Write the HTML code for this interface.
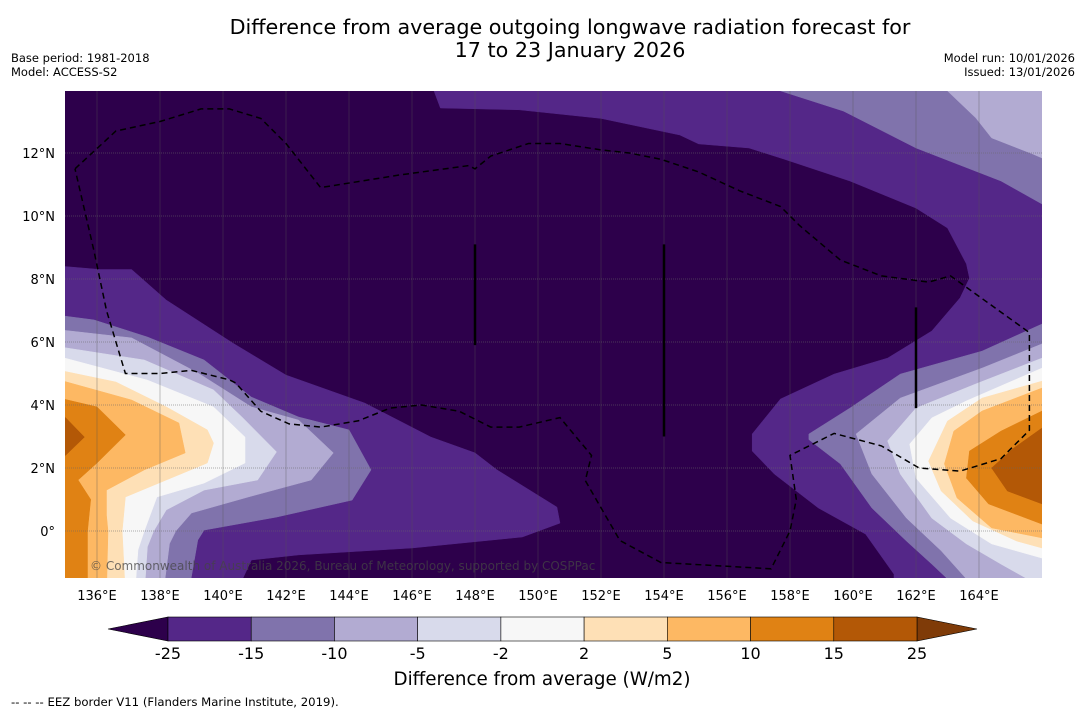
<!DOCTYPE html>
<html><head><meta charset="utf-8">
<style>
body{margin:0;background:#fff;width:1085px;height:713px;overflow:hidden;font-family:"DejaVu Sans","Liberation Sans",sans-serif;}
svg{position:absolute;left:0;top:0}
</style></head>
<body>
<svg id="chart" width="1085" height="713" font-family="DejaVu Sans, Liberation Sans, sans-serif">
<text x="570" y="34" font-size="20.7" text-anchor="middle" fill="#000">Difference from average outgoing longwave radiation forecast for</text>
<text x="570" y="57" font-size="20.7" text-anchor="middle" fill="#000">17 to 23 January 2026</text>
<text x="11" y="62" font-size="11.5">Base period: 1981-2018</text>
<text x="11" y="76" font-size="11.5">Model: ACCESS-S2</text>
<text x="1075" y="62" font-size="11.5" text-anchor="end">Model run: 10/01/2026</text>
<text x="1075" y="76" font-size="11.5" text-anchor="end">Issued: 13/01/2026</text>
<defs><clipPath id="mapclip"><rect x="65" y="91" width="977" height="487"/></clipPath></defs>
<g id="map" clip-path="url(#mapclip)">
<rect x="65" y="91" width="977" height="487" fill="#2d004b"/>
</g>
<g id="ticks"></g>
<g id="cbar"></g>
<text x="542" y="685" font-size="18.3" text-anchor="middle">Difference from average (W/m2)</text>
<text x="11" y="706" font-size="11.7">--  --  -- EEZ border V11 (Flanders Marine Institute, 2019).</text>
</svg>
<script>
// ---- data ----
const lonTicks=[136,138,140,142,144,146,148,150,152,154,156,158,160,162,164];
const latTicks=[0,2,4,6,8,10,12];
const levels=[-25,-15,-10,-5,-2,2,5,10,15,25];
const bandColors=["#542788","#8073ac","#b2abd2","#d8daeb","#f7f7f7","#fee0b6","#fdb863","#e08214","#b35806"];
// contour polygons in [lon, lat]
const westM15=[[134,8.48],[136.1,8.3],[137.1,8.3],[138.2,7.33],[140.3,5.97],[142,4.95],[144.5,4.06],[146.6,2.98],[148,2.48],[148.7,1.94],[150.6,0.76],[150.7,0.25],[149.5,-0.19],[146,-0.54],[142.4,-0.76],[140.9,-0.92],[140.4,-2],[134,-2]];
const westM10=[[134,6.95],[135.9,6.7],[137.6,6.16],[139.4,5.43],[140.9,4.25],[142.4,3.62],[144,3.21],[144.7,1.94],[144.1,0.98],[141.7,0.44],[139.4,0.03],[139.2,-0.29],[138.9,-2],[134,-2]];
const westM5=[[134,6.48],[137.1,6.13],[139.2,5.02],[140.9,3.94],[142.4,3.52],[143.5,2.48],[142.8,1.62],[140.8,1.08],[139.0,0.57],[138.5,0.0],[138.3,-0.4],[138.1,-2],[134,-2]];
const westM2=[[134,5.97],[137.5,5.43],[139.7,4.48],[140.6,3.62],[141.7,2.51],[141.1,1.62],[139.4,1.3],[138.2,0.67],[137.8,0],[137.6,-0.5],[137.5,-2],[134,-2]];
const westZ=[[134,5.75],[137.6,4.79],[139.7,3.94],[140.7,2.98],[140.7,2.16],[139.4,1.52],[137.9,1.08],[137.5,0],[137.3,-0.6],[137.2,-2],[134,-2]];
const westP2=[[134,5.27],[136.6,4.73],[138.2,3.94],[139.5,3.21],[139.7,2.79],[139.5,2.16],[138.2,1.62],[136.9,1.08],[136.8,0],[136.9,-2],[134,-2]];
const westP5=[[134,5.02],[137.1,4.16],[138.6,3.43],[138.8,2.48],[137.5,1.94],[136.3,1.3],[136.3,0.5],[136.35,0],[136.3,-2],[134,-2]];
const westP10=[[134,4.41],[136,3.94],[136.9,3.05],[136,2.16],[135.4,1.62],[135.8,1.0],[135.7,0],[135.7,-2],[134,-2]];
const westP15=[[134,3.7],[135,3.6],[135.6,2.98],[135,2.4],[134,2.4]];
const eastM15=[[146.7,15],[146.7,13.97],[146.9,13.43],[149.4,13.37],[152,13.1],[154.5,12.57],[155.1,12.29],[156.7,12.16],[157.8,11.81],[159.9,11.11],[162,10.25],[163,9.62],[163.6,8.48],[163.7,8.03],[163.4,7.4],[162.5,6.35],[161.1,5.49],[159.4,4.98],[157.7,4.19],[156.8,3.08],[156.8,2.54],[157.5,1.81],[158.9,0.73],[160.4,-0.1],[161.3,-1.37],[161.3,-2],[167,-2],[167,15]];
const eastM10top=[[157.7,15],[157.7,13.97],[159.7,13.33],[162,12.16],[164.7,11.11],[166,10.38],[167,10.3],[167,15]];
const eastM10=[[167,6.6],[166,6.57],[164.1,5.71],[161.5,4.98],[159.9,3.9],[158.6,3.08],[158.6,2.9],[159.6,2.13],[160.6,0.73],[161.7,-0.32],[162.5,-1.05],[163,-1.52],[163,-2],[167,-2]];
const eastM5top=[[163,15],[163,13.97],[163.9,13.11],[164.4,12.48],[165.7,11.97],[166,11.84],[167,11.8],[167,15]];
const eastM5=[[167,5.94],[166,5.94],[164.1,5.17],[161.5,4.22],[160.1,3.08],[160.6,1.81],[161.7,0.41],[162.8,-0.63],[163.6,-1.52],[163.6,-2],[167,-2]];
const eastM2=[[167,5.49],[166,5.49],[163.9,4.67],[162,3.9],[161.1,2.86],[161.5,1.81],[162.5,0.41],[163.6,-0.41],[164.7,-1.05],[165.5,-1.5],[166,-2],[167,-2]];
const eastZ=[[167,5.17],[166,5.17],[163.6,4.13],[162.5,3.59],[161.8,2.76],[162,1.68],[163.1,0.41],[164.4,-0.41],[166,-0.86],[167,-0.9]];
const eastP2=[[167,4.76],[166,4.76],[164.1,4.22],[163,3.49],[162.4,2.22],[162.8,1.27],[163.8,0.32],[165.2,-0.32],[166,-0.54],[167,-0.6]];
const eastP5=[[167,4.54],[166,4.54],[164.1,3.81],[163.2,3.17],[162.9,2.13],[163.3,1.05],[164.4,0.1],[166,-0.22],[167,-0.25]];
const eastP10=[[167,3.81],[166,3.81],[164.7,3.17],[163.7,2.54],[163.6,1.68],[164.3,0.86],[166,0.22],[167,0.2]];
const eastP15=[[167,3.27],[166,3.27],[165.1,2.63],[164.4,2.0],[164.9,1.27],[166,0.86],[167,0.85]];
const eez=[[135.3,11.5],[136.6,12.7],[138.0,13.0],[139.3,13.4],[140.2,13.4],[141.2,13.1],[142.0,12.3],[143.1,10.9],[145.6,11.3],[147.8,11.6],[148.0,11.5],[148.5,11.9],[149.7,12.3],[150.7,12.3],[152.0,12.1],[152.9,12.0],[153.9,11.8],[155.1,11.4],[156.4,10.8],[157.7,10.3],[158.3,9.7],[159.6,8.6],[160.9,8.1],[162.4,7.9],[163.1,8.1],[165.6,6.3],[165.6,3.2],[164.7,2.3],[163.4,1.9],[162.1,2.0],[160.9,2.7],[159.4,3.1],[158.0,2.4],[158.2,1.0],[158.0,0.0],[157.4,-1.2],[153.9,-1.0],[152.6,-0.3],[151.5,1.6],[151.7,2.4],[150.7,3.6],[149.4,3.3],[148.5,3.3],[147.5,3.8],[146.3,4.0],[145.3,3.9],[144.3,3.5],[143.1,3.3],[142.1,3.4],[141.2,3.8],[140.4,4.7],[140.2,4.8],[139.0,5.1],[138.0,5.0],[136.9,5.0],[136.3,7.0],[135.9,8.9],[135.3,11.5]];
const boundaryLines=[[[148,9.1],[148,5.9]],[[154,9.1],[154,3.0]],[[162,7.1],[162,3.9]]];

// ---- axes ----
const X=lon=>97+(lon-136)*31.5;
const Y=lat=>531-lat*31.5;
const NS="http://www.w3.org/2000/svg";
const map=document.getElementById('map');
function pts(a){return a.map(p=>X(p[0]).toFixed(1)+','+Y(p[1]).toFixed(1)).join(' ');}
const layers=[
 [westM15,0,'west-band-m15'],[westM10,1,'west-band-m10'],[westM5,2,'west-band-m5'],[westM2,3,'west-band-m2'],[westZ,4,'west-band-neutral'],[westP2,5,'west-band-p2'],[westP5,6,'west-band-p5'],[westP10,7,'west-band-p10'],[westP15,8,'west-band-p15'],
 [eastM15,0,'east-band-m15'],[eastM10top,1,'east-top-band-m10'],[eastM5top,2,'east-top-band-m5'],[eastM10,1,'east-band-m10'],[eastM5,2,'east-band-m5'],[eastM2,3,'east-band-m2'],[eastZ,4,'east-band-neutral'],[eastP2,5,'east-band-p2'],[eastP5,6,'east-band-p5'],[eastP10,7,'east-band-p10'],[eastP15,8,'east-band-p15']];
layers.forEach(l=>{
 const p=document.createElementNS(NS,'polygon');
 p.setAttribute('points',pts(l[0]));
 p.setAttribute('fill',bandColors[l[1]]);
 p.setAttribute('stroke',bandColors[l[1]]);p.setAttribute('stroke-width','0.5');
 
 
 map.appendChild(p);
});
lonTicks.forEach(lon=>{
 const l=document.createElementNS(NS,'line');
 l.setAttribute('x1',X(lon));l.setAttribute('x2',X(lon));l.setAttribute('y1',91);l.setAttribute('y2',578);
 l.setAttribute('stroke','#555');l.setAttribute('stroke-width','0.6');l.setAttribute('stroke-opacity','0.6');
 
 
 map.appendChild(l);
});
latTicks.forEach(lat=>{
 const l=document.createElementNS(NS,'line');
 l.setAttribute('x1',65);l.setAttribute('x2',1042);l.setAttribute('y1',Y(lat));l.setAttribute('y2',Y(lat));
 l.setAttribute('stroke','#666');l.setAttribute('stroke-width','0.8');l.setAttribute('stroke-dasharray','1,1');l.setAttribute('stroke-opacity','0.7');
 
 
 map.appendChild(l);
});
const e=document.createElementNS(NS,'polyline');
e.setAttribute('points',pts(eez));e.setAttribute('fill','none');e.setAttribute('stroke','#000');e.setAttribute('stroke-width','1.5');e.setAttribute('stroke-dasharray','6,4');


map.appendChild(e);
boundaryLines.forEach(b=>{
 const l=document.createElementNS(NS,'polyline');
 l.setAttribute('points',pts(b));l.setAttribute('stroke','#000');l.setAttribute('stroke-width','2.5');
 
 
 map.appendChild(l);
});
const c=document.createElementNS(NS,'text');
c.setAttribute('x',90);c.setAttribute('y',570);c.setAttribute('font-size','12');c.setAttribute('fill','#444');c.setAttribute('fill-opacity','0.75');
c.textContent='© Commonwealth of Australia 2026, Bureau of Meteorology, supported by COSPPac';


map.appendChild(c);
const tk=document.getElementById('ticks');
lonTicks.forEach(lon=>{
 const t=document.createElementNS(NS,'text');
 t.setAttribute('x',X(lon));t.setAttribute('y',600);t.setAttribute('font-size','13');t.setAttribute('text-anchor','middle');
 t.textContent=lon+'°E';
 
 
 tk.appendChild(t);
});
latTicks.forEach(lat=>{
 const t=document.createElementNS(NS,'text');
 t.setAttribute('x',55);t.setAttribute('y',Y(lat)+5);t.setAttribute('font-size','13');t.setAttribute('text-anchor','end');
 t.textContent=lat===0?'0°':lat+'°N';
 
 
 tk.appendChild(t);
});
const cb=document.getElementById('cbar');
const cx0=168,cx1=917,cy=617,ch=24,bw=(cx1-cx0)/bandColors.length;
const lt=document.createElementNS(NS,'polygon');
lt.setAttribute('points',`108,${cy+ch/2} ${cx0},${cy} ${cx0},${cy+ch}`);lt.setAttribute('fill','#2d004b');lt.setAttribute('stroke','#000');lt.setAttribute('stroke-width','0.6');


cb.appendChild(lt);
const rt=document.createElementNS(NS,'polygon');
rt.setAttribute('points',`977,${cy+ch/2} ${cx1},${cy} ${cx1},${cy+ch}`);rt.setAttribute('fill','#7f3b08');rt.setAttribute('stroke','#000');rt.setAttribute('stroke-width','0.6');


cb.appendChild(rt);
bandColors.forEach((col,i)=>{
 const r=document.createElementNS(NS,'rect');
 r.setAttribute('x',cx0+i*bw);r.setAttribute('y',cy);r.setAttribute('width',bw);r.setAttribute('height',ch);
 r.setAttribute('fill',col);r.setAttribute('stroke','#000');r.setAttribute('stroke-width','0.6');
 
 
 cb.appendChild(r);
});
levels.forEach((v,i)=>{
 const t=document.createElementNS(NS,'text');
 t.setAttribute('x',cx0+i*bw);t.setAttribute('y',659);t.setAttribute('font-size','16');t.setAttribute('text-anchor','middle');
 t.textContent=v;
 
 
 cb.appendChild(t);
});
</script>
</body></html>
